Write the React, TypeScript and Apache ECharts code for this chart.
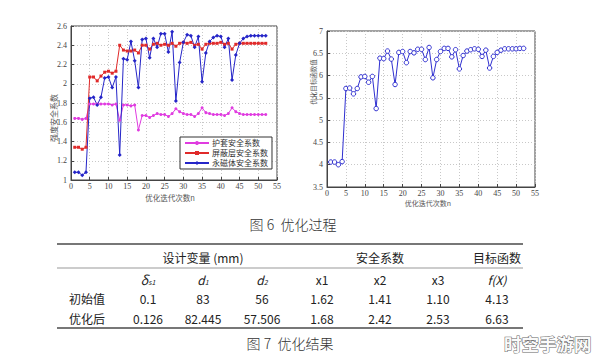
import React, { useEffect, useRef } from "react";
import * as echarts from "echarts";

const iterations = [1, 2, 3, 4, 5, 6, 7, 8, 9, 10, 11, 12, 13, 14, 15, 16, 17, 18, 19, 20, 21, 22, 23, 24, 25, 26, 27, 28, 29, 30, 31, 32, 33, 34, 35, 36, 37, 38, 39, 40, 41, 42, 43, 44, 45, 46, 47, 48, 49, 50, 51, 52];

const sheath = [1.64, 1.64, 1.63, 1.64, 1.79, 1.79, 1.79, 1.79, 1.79, 1.79, 1.78, 1.79, 1.62, 1.78, 1.78, 1.77, 1.78, 1.52, 1.67, 1.67, 1.65, 1.67, 1.69, 1.68, 1.68, 1.66, 1.69, 1.74, 1.71, 1.69, 1.68, 1.68, 1.66, 1.69, 1.75, 1.70, 1.69, 1.68, 1.68, 1.68, 1.67, 1.69, 1.75, 1.71, 1.69, 1.68, 1.68, 1.68, 1.68, 1.68, 1.68, 1.68];

const shield = [1.34, 1.34, 1.32, 1.34, 2.07, 2.07, 2.03, 2.08, 2.12, 2.13, 2.11, 2.13, 2.40, 2.35, 2.34, 2.34, 2.35, 2.32, 2.40, 2.40, 2.36, 2.41, 2.42, 2.40, 2.41, 2.40, 2.42, 2.39, 2.42, 2.43, 2.42, 2.43, 2.40, 2.41, 2.36, 2.41, 2.42, 2.42, 2.42, 2.43, 2.41, 2.42, 2.36, 2.41, 2.42, 2.42, 2.42, 2.42, 2.42, 2.42, 2.42, 2.42];

const magnet = [1.08, 1.08, 1.05, 1.08, 1.85, 1.86, 1.78, 1.86, 2.06, 2.07, 1.96, 2.07, 1.26, 2.26, 2.25, 2.44, 2.24, 1.96, 2.46, 2.47, 2.27, 2.47, 2.38, 2.52, 2.52, 2.33, 2.54, 1.82, 2.22, 2.43, 2.51, 2.50, 2.38, 2.49, 2.02, 2.32, 2.44, 2.48, 2.50, 2.49, 2.38, 2.47, 2.04, 2.30, 2.42, 2.47, 2.49, 2.50, 2.50, 2.50, 2.50, 2.50];

const objective = [4.06, 4.06, 4.00, 4.07, 5.71, 5.72, 5.59, 5.71, 5.97, 5.98, 5.85, 5.98, 5.26, 6.39, 6.38, 6.55, 6.37, 5.80, 6.52, 6.54, 6.29, 6.54, 6.51, 6.59, 6.59, 6.36, 6.63, 5.95, 6.36, 6.54, 6.61, 6.61, 6.42, 6.58, 6.15, 6.45, 6.55, 6.58, 6.60, 6.59, 6.43, 6.57, 6.17, 6.43, 6.52, 6.57, 6.60, 6.60, 6.60, 6.60, 6.61, 6.61];

const seriesNames = ["护套安全系数", "屏蔽层安全系数", "永磁体安全系数"];

const tableGroupHeaders = ["设计变量 (mm)", "安全系数", "目标函数"];
const tableColumns = ["δs1", "d1", "d2", "x1", "x2", "x3", "f(X)"];
const rowLabels = ["初始值", "优化后"];
const initialRow = ["0.1", "83", "56", "1.62", "1.41", "1.10", "4.13"];
const optimizedRow = ["0.126", "82.445", "57.506", "1.68", "2.42", "2.53", "6.63"];

const W = 596;
const H = 358;

export default function App() {
  const ref = useRef<HTMLDivElement>(null);

  useEffect(() => {
    document.body.style.margin = "0";
    if (!ref.current) return;
    const chart = echarts.init(ref.current, undefined, { renderer: "svg" });

    const tickFont = "Liberation Serif";
    const cjk = "Noto Sans CJK SC";
    const axisColor = "#444";

    const makeX = (gridIndex: number) => ({
      type: "value",
      gridIndex,
      min: 0,
      max: 55,
      interval: 5,
      axisLine: { show: true, onZero: false, lineStyle: { color: axisColor, width: 1 } },
      axisTick: { show: true, inside: true, length: 3, lineStyle: { color: axisColor } },
      axisLabel: { fontSize: 8, color: "#444", fontFamily: tickFont, margin: 2 },
      splitLine: { show: true, lineStyle: { color: "#c8c8c8", type: [1, 2], width: 1 } },
    });

    const makeY = (gridIndex: number, min: number, max: number, interval: number) => ({
      type: "value",
      gridIndex,
      min,
      max,
      interval,
      axisLine: { show: true, lineStyle: { color: axisColor, width: 1 } },
      axisTick: { show: true, inside: true, length: 3, lineStyle: { color: axisColor } },
      axisLabel: {
        fontSize: 8,
        color: "#444",
        fontFamily: tickFont,
        margin: 4,
        formatter: (v: number) => String(Math.round(v * 10) / 10),
      },
      splitLine: { show: true, lineStyle: { color: "#c8c8c8", type: [1, 2], width: 1 } },
    });

    const colX = [148, 203, 262, 322, 380, 438, 497];
    const groupX = [203, 380, 497];
    const tableFont = "Noto Sans CJK SC";

    const graphics: any[] = [];
    graphics.push({
      type: "text", x: 53, y: 118, rotation: Math.PI / 2,
      style: { text: "强度安全系数", fill: "#555", fontSize: 8, fontFamily: cjk, align: "center", verticalAlign: "middle" },
    });
    graphics.push({
      type: "text", x: 170, y: 197,
      style: { text: "优化迭代次数n", fill: "#555", fontSize: 7.5, fontFamily: cjk, align: "center", verticalAlign: "middle" },
    });
    graphics.push({
      type: "text", x: 313, y: 82, rotation: Math.PI / 2,
      style: { text: "优化目标函数值", fill: "#555", fontSize: 6.5, fontFamily: cjk, align: "center", verticalAlign: "middle" },
    });
    graphics.push({
      type: "text", x: 428, y: 203,
      style: { text: "优化迭代次数n", fill: "#555", fontSize: 7, fontFamily: cjk, align: "center", verticalAlign: "middle" },
    });
    graphics.push({
      type: "text", x: 293, y: 224,
      style: { text: "图 6  优化过程", fill: "#333", fontSize: 14, fontFamily: cjk, fontWeight: 300, align: "center", verticalAlign: "middle" },
    });
    graphics.push({
      type: "text", x: 290, y: 343,
      style: { text: "图 7  优化结果", fill: "#333", fontSize: 14, fontFamily: cjk, fontWeight: 300, align: "center", verticalAlign: "middle" },
    });
    graphics.push({ type: "line", shape: { x1: 57, y1: 244, x2: 523, y2: 244 }, style: { stroke: "#777", lineWidth: 2 } });
    graphics.push({ type: "line", shape: { x1: 57, y1: 268, x2: 523, y2: 268 }, style: { stroke: "#999", lineWidth: 1 } });
    graphics.push({ type: "line", shape: { x1: 57, y1: 328, x2: 523, y2: 328 }, style: { stroke: "#777", lineWidth: 2 } });

    tableGroupHeaders.forEach((t, i) => {
      graphics.push({
        type: "text", x: groupX[i], y: 257,
        style: { text: t, fill: "#222", fontSize: 12, fontFamily: tableFont, align: "center", verticalAlign: "middle" },
      });
    });
    tableColumns.forEach((t, i) => {
      let text = t;
      let rich: any = undefined;
      if (t === "δs1") {
        text = "{a|δ}{b|s1}";
        rich = { a: { fontStyle: "italic", fontSize: 13, fill: "#222", fontFamily: tableFont }, b: { fontStyle: "italic", fontSize: 7, fill: "#222", padding: [6, 0, 0, 0], fontFamily: tableFont } };
      } else if (t === "d1" || t === "d2") {
        text = `{a|d}{b|${t.slice(1)}}`;
        rich = { a: { fontStyle: "italic", fontSize: 12, fill: "#222", fontFamily: tableFont }, b: { fontStyle: "italic", fontSize: 7, fill: "#222", padding: [6, 0, 0, 0], fontFamily: tableFont } };
      }
      const isItalic = t === "f(X)";
      graphics.push({
        type: "text", x: colX[i], y: 279,
        style: {
          text, rich, fill: "#222", fontSize: 12, fontFamily: tableFont,
          fontStyle: isItalic ? "italic" : "normal", align: "center", verticalAlign: "middle",
        },
      });
    });
    const rows = [initialRow, optimizedRow];
    const rowY = [298, 318];
    rows.forEach((row, r) => {
      graphics.push({
        type: "text", x: 87, y: rowY[r],
        style: { text: rowLabels[r], fill: "#222", fontSize: 12, fontFamily: tableFont, align: "center", verticalAlign: "middle" },
      });
      row.forEach((v, i) => {
        graphics.push({
          type: "text", x: colX[i], y: rowY[r],
          style: { text: v, fill: "#222", fontSize: 12, fontFamily: tableFont, align: "center", verticalAlign: "middle" },
        });
      });
    });
    graphics.push({
      type: "text", x: 504, y: 343,
      style: { text: "时空手游网", fill: "#fafafa", stroke: "#666", lineWidth: 1, fontSize: 17.5, fontWeight: "bold", fontFamily: cjk, align: "left", verticalAlign: "middle" },
    });

    const magenta = "#e03ce0";
    const red = "#e02a2a";
    const blue = "#2525c8";
    const blue2 = "#2f2fd0";

    chart.setOption({
      animation: false,
      backgroundColor: "#fff",
      grid: [
        { left: 71, top: 26, width: 206, height: 154, show: true, borderColor: axisColor, borderWidth: 1, backgroundColor: "#fff", containLabel: false },
        { left: 327, top: 31, width: 208, height: 156, show: true, borderColor: axisColor, borderWidth: 1, backgroundColor: "#fff", containLabel: false },
      ],
      xAxis: [makeX(0), makeX(1)],
      yAxis: [makeY(0, 1, 2.6, 0.2), makeY(1, 3.5, 7, 0.5)],
      legend: {
        data: seriesNames,
        left: 180,
        top: 137,
        orient: "vertical",
        itemGap: 2,
        itemWidth: 24,
        itemHeight: 5,
        padding: [2, 4, 2, 4],
        borderColor: "#333",
        borderWidth: 1,
        backgroundColor: "#fff",
        textStyle: { fontSize: 8, fontFamily: cjk, color: "#333", padding: [0, 0, 0, -2] },
      },
      series: [
        {
          name: seriesNames[0], type: "line", xAxisIndex: 0, yAxisIndex: 0,
          data: iterations.map((x, i) => [x, sheath[i]]),
          symbol: "circle", symbolSize: 3,
          lineStyle: { color: magenta, width: 1 }, itemStyle: { color: magenta },
        },
        {
          name: seriesNames[1], type: "line", xAxisIndex: 0, yAxisIndex: 0,
          data: iterations.map((x, i) => [x, shield[i]]),
          symbol: "rect", symbolSize: 3,
          lineStyle: { color: red, width: 1 }, itemStyle: { color: red },
        },
        {
          name: seriesNames[2], type: "line", xAxisIndex: 0, yAxisIndex: 0,
          data: iterations.map((x, i) => [x, magnet[i]]),
          symbol: "diamond", symbolSize: 4,
          lineStyle: { color: blue, width: 1 }, itemStyle: { color: blue },
        },
        {
          name: "优化目标函数值", type: "line", xAxisIndex: 1, yAxisIndex: 1,
          data: iterations.map((x, i) => [x, objective[i]]),
          symbol: "circle", symbolSize: 4.5,
          lineStyle: { color: blue2, width: 1 },
          itemStyle: { color: "#fff", borderColor: blue2, borderWidth: 1 },
        },
      ],
      graphic: graphics,
    });

    return () => chart.dispose();
  }, []);

  return <div ref={ref} style={{ width: W, height: H }} />;
}
